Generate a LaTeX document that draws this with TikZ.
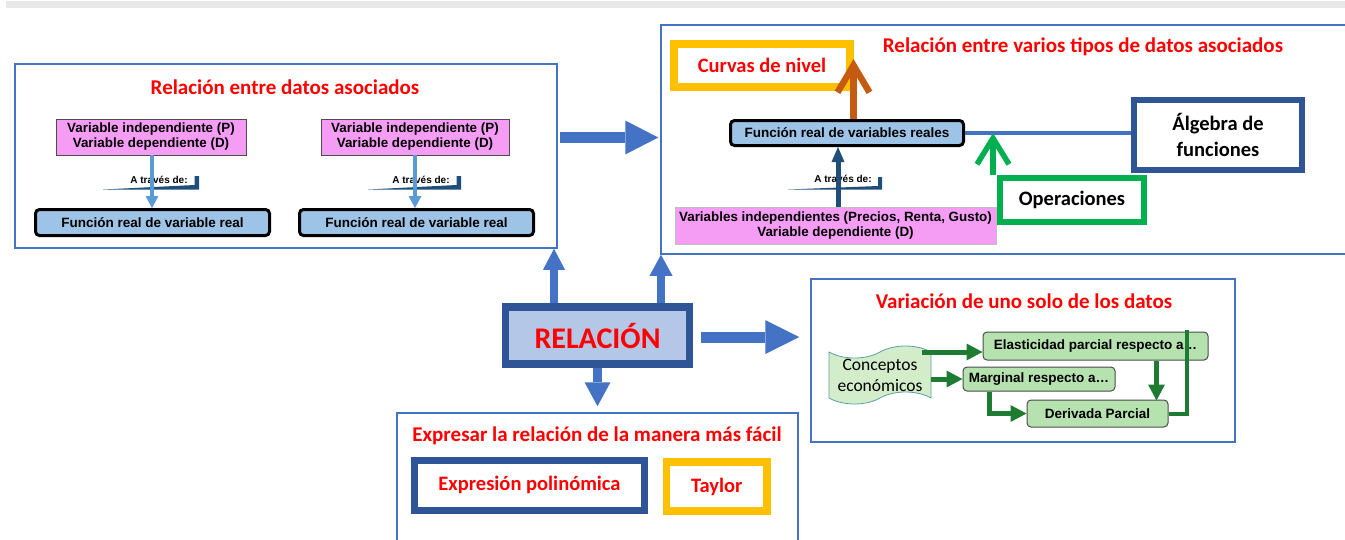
\documentclass[tikz,border=0pt]{standalone}
\usepackage{fontspec}
\setmainfont{Carlito}
\newfontfamily\arialf{Liberation Sans}
\usetikzlibrary{arrows.meta,calc,shapes.symbols}
\definecolor{cblue}{HTML}{4472C4}
\definecolor{dblue}{HTML}{2F5597}
\definecolor{navy}{HTML}{1F4E79}
\definecolor{lblue}{HTML}{9DC3E6}
\definecolor{relfill}{HTML}{B4C7E7}
\definecolor{cpink}{HTML}{F59CF5}
\definecolor{gold}{HTML}{FFC000}
\definecolor{cgreen}{HTML}{00B050}
\definecolor{cbrown}{HTML}{C55A11}
\definecolor{skyblue}{HTML}{5B9BD5}
\definecolor{dgreen}{HTML}{1E7B32}
\definecolor{mint}{HTML}{B5E2AE}
\definecolor{concfill}{HTML}{D3EDCB}
\definecolor{concline}{HTML}{5E9EA0}
\definecolor{cred}{HTML}{FF0000}
\begin{document}
\begin{tikzpicture}[x=1pt,y=-1pt,
  container/.style={draw=cblue, line width=1.5pt, inner sep=0pt},
  ttl/.style={text=cred, font=\bfseries\fontsize{21}{25}\selectfont, inner sep=0pt},
  pinkbox/.style={draw=gray!60!black, line width=0.7pt, fill=cpink, inner sep=0pt, align=center, font=\arialf\bfseries\fontsize{13.4}{15}\selectfont},
  funbox/.style={draw=black, line width=3pt, rounded corners=4pt, fill=lblue, inner sep=0pt, font=\arialf\bfseries\fontsize{13.5}{15}\selectfont},
  atrav/.style={font=\arialf\bfseries\fontsize{10}{11}\selectfont, inner sep=0pt},
  wedgefill/.style={fill=navy},
  thickbox/.style={line width=#1, fill=white, inner sep=0pt, align=center, font=\bfseries\fontsize{20.5}{25.5}\selectfont},
  greenbox/.style={draw=gray!60!black, line width=1pt, rounded corners=4pt, fill=mint, inner sep=0pt, font=\arialf\bfseries\fontsize{13.5}{15}\selectfont},
  barrow/.style={draw=cblue, line width=#1},
  garrow/.style={draw=dgreen, line width=5pt, -{Triangle[length=16pt,width=17pt,line width=0pt]}},
]
\useasboundingbox (0,0) rectangle (1345,539);
\fill[gray!18] (6,1) rectangle (1345,8);

% containers
\node[container, minimum width=542pt, minimum height=184pt] (lbox) at (286,156) {};
\node[container, minimum width=699pt, minimum height=229pt] (rbox) at (1010.5,139.5) {};
\node[container, minimum width=424pt, minimum height=163pt] (vbox) at (1023,360.5) {};
\node[container, minimum width=401pt, minimum height=147pt] (ebox) at (597.5,486.5) {};

% titles
\node[ttl] (t1) at (285,87) {Relación entre datos asociados};
\node[ttl] (t2) at (1083,47) {Relación entre varios tipos de datos asociados};
\node[ttl] (t3) at (1024,301) {Variación de uno solo de los datos};
\node[ttl] (t4) at (597,436) {Expresar la relación de la manera más fácil};

% left panel
\node[pinkbox, minimum width=190pt, minimum height=36pt] (p1) at (151,137) {Variable independiente (P)\\Variable dependiente (D)};
\node[funbox, minimum width=234pt, minimum height=26pt] (f1) at (152.5,222.5) {Función real de variable real};
\fill[wedgefill] (103,189.5) -- (199,189.5) -- (199,176) -- (194.5,176) -- (194.5,185) -- cycle;
\node[atrav] (a1) at (159,180) {A través de:};
\draw[draw=skyblue, line width=4.5pt, -{Triangle[length=12pt,width=13pt,line width=0pt]}] ([xshift=1pt]p1.south) -- ([xshift=1pt]p1.south |- f1.north);

\node[pinkbox, minimum width=188pt, minimum height=36pt] (p2) at (415,137) {Variable independiente (P)\\Variable dependiente (D)};
\node[funbox, minimum width=234pt, minimum height=26pt] (f2) at (416.5,222.5) {Función real de variable real};
\fill[wedgefill] (368,189.5) -- (461,189.5) -- (461,176) -- (456.5,176) -- (456.5,185) -- cycle;
\node[atrav] (a2) at (421,180) {A través de:};
\draw[draw=skyblue, line width=4.5pt, -{Triangle[length=12pt,width=13pt,line width=0pt]}] (p2.south) -- (p2.south |- f2.north);

% right top panel
\node[thickbox=8pt, draw=gold, minimum width=176pt, minimum height=43pt, text=cred] (curvas) at (762,65) {Curvas de nivel};
\node[funbox, minimum width=233pt, minimum height=25pt] (fr) at (847,133) {Función real de variables reales};
\node[thickbox=6pt, draw=dblue, minimum width=168pt, minimum height=70pt] (alg) at (1218,135) {Álgebra de\\funciones};
\node[thickbox=6pt, draw=cgreen, minimum width=144pt, minimum height=44pt] (op) at (1072,200) {Operaciones};
\node[pinkbox, draw=gray!50, minimum width=321pt, minimum height=37pt] (pr) at (835.5,225.5) {Variables independientes (Precios, Renta, Gusto)\\Variable dependiente (D)};
\fill[wedgefill] (788,189.5) -- (882,189.5) -- (882,177) -- (878,177) -- (878,186) -- cycle;
\node[atrav] (a3) at (843,179) {A través de:};
\draw[draw=navy, line width=5pt, -{Triangle[length=15pt,width=13pt,line width=0pt]}] ([xshift=2.5pt]pr.north) -- ([xshift=2.5pt]pr.north |- fr.south);
\draw[draw=cblue, line width=3.5pt] (fr.east) -- (fr.east -| alg.west);
\draw[draw=cbrown, line width=6.5pt, -{Straight Barb[length=27pt,width=32pt]}] ([xshift=6.5pt]fr.north) -- ([xshift=6.5pt,yshift=6pt]fr.north |- curvas.center);
\draw[draw=cgreen, line width=5.5pt, -{Straight Barb[length=26pt,width=32pt]}] ([xshift=-4pt]op.north west) -- ([xshift=-4pt]op.north west |- fr.east);

% center
\node[draw=dblue, line width=7.5pt, fill=relfill, minimum width=184pt, minimum height=57pt, inner sep=0pt, text=cred, font=\bfseries\fontsize{30}{36}\selectfont] (rel) at (597.5,335.5) {RELACIÓN};
\draw[barrow=8pt, -{Triangle[length=21pt,width=22pt,line width=0pt]}] ([xshift=-43.5pt]rel.north) -- ([xshift=-43.5pt]rel.north |- lbox.south);
\draw[barrow=8pt, -{Triangle[length=21pt,width=23pt,line width=0pt]}] ([xshift=63.5pt]rel.north) -- ([xshift=63.5pt]rel.north |- rbox.south);
\draw[barrow=11pt, shorten <=8pt, shorten >=11pt, -{Triangle[length=34pt,width=34pt,line width=0pt]}] ([yshift=-1.5pt]rel.east) -- ([yshift=-1.5pt]rel.east -| vbox.west);
\draw[barrow=9pt, shorten >=6pt, -{Triangle[length=24pt,width=26pt,line width=0pt]}] (rel.south) -- (rel.south |- ebox.north);
\draw[barrow=11pt, shorten <=2pt, shorten >=2pt, -{Triangle[length=33pt,width=34pt,line width=0pt]}] ([yshift=18.5pt]lbox.east) -- ([yshift=18.5pt]lbox.east -| rbox.west);

% lower right panel
\node[tape, draw=concline, line width=0.8pt, fill=concfill, minimum width=102pt, minimum height=58pt, tape bend height=12pt, inner sep=0pt, align=center, font=\fontsize{17.5}{21}\selectfont] (conc) at (880,375) {Conceptos\\económicos};
\node[greenbox, minimum width=225pt, minimum height=28pt] (elast) at (1095.5,346) {Elasticidad parcial respecto a…};
\node[greenbox, minimum width=152pt, minimum height=24pt] (marg) at (1039,379) {Marginal respecto a…};
\node[greenbox, minimum width=141pt, minimum height=27pt] (deriv) at (1097.5,413.5) {Derivada Parcial};
\draw[garrow] ($(conc.east |- elast.west)+(-9,6)$) -- ($(elast.west)+(0,6)$);
\draw[garrow] (conc.east |- marg.west) -- (marg.west);
\draw[garrow] ($(marg.south west)+(27,0)$) |- (deriv.west);
\draw[garrow] ($(elast.south east)+(-52,0)$) -- ++(0,40);
\draw[draw=dgreen, line width=4pt] (deriv.east) -| ($(elast.north east)+(-22,-2)$);

% bottom panel
\node[thickbox=7pt, draw=dblue, minimum width=230pt, minimum height=49.5pt, text=cred] (poly) at (529.5,485.25) {Expresión polinómica};
\node[thickbox=7.5pt, draw=gold, minimum width=100.5pt, minimum height=49pt, text=cred] (taylor) at (716.75,486.5) {Taylor};
\end{tikzpicture}
\end{document}
